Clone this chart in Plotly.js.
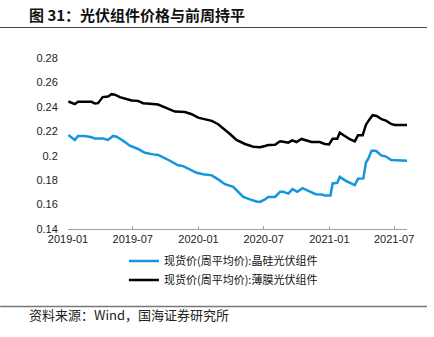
<!DOCTYPE html>
<html>
<head>
<meta charset="utf-8">
<script src="https://cdn.plot.ly/plotly-3.0.1.min.js"></script>
<style>
html,body{margin:0;padding:0;background:#fff;}
#wrap{position:relative;width:434px;height:337px;}
#chart{width:434px;height:337px;}
#rule{position:absolute;left:0;top:27px;width:427px;height:0;border-top:1.5px solid #444;pointer-events:none;}
</style>
</head>
<body>
<div id="wrap"><div id="chart"></div><div id="rule"></div></div>
<script>
// 现货价(周平均价):晶硅光伏组件
const siDates = ['2019-01-02','2019-01-20','2019-01-29','2019-02-17','2019-03-08','2019-03-17','2019-04-09','2019-04-23','2019-05-07','2019-05-17','2019-06-04','2019-06-23','2019-07-16','2019-08-04','2019-08-27','2019-09-10','2019-10-04','2019-11-05','2019-11-19','2019-12-08','2019-12-27','2020-01-14','2020-02-07','2020-02-25','2020-03-15','2020-04-07','2020-04-21','2020-05-05','2020-05-24','2020-06-11','2020-06-21','2020-07-05','2020-07-14','2020-08-02','2020-08-16','2020-08-25','2020-09-08','2020-09-20','2020-10-03','2020-10-18','2020-11-03','2020-11-24','2020-12-10','2020-12-19','2021-01-04','2021-01-10','2021-01-23','2021-01-30','2021-02-16','2021-03-13','2021-03-22','2021-04-06','2021-04-13','2021-04-20','2021-04-29','2021-05-11','2021-05-26','2021-06-07','2021-06-23','2021-08-06'];
const siValues = [0.217,0.2129,0.2162,0.2162,0.2151,0.214,0.214,0.2129,0.2162,0.2156,0.2123,0.2082,0.2055,0.2024,0.2011,0.2006,0.1973,0.1921,0.1915,0.1888,0.186,0.1849,0.1839,0.1806,0.1767,0.1745,0.1704,0.1663,0.1642,0.1625,0.1622,0.1642,0.1663,0.1663,0.1704,0.1704,0.169,0.1726,0.1704,0.1734,0.1712,0.1685,0.1683,0.1674,0.1674,0.1773,0.1778,0.1827,0.1794,0.1759,0.1811,0.1814,0.1942,0.1978,0.2041,0.2041,0.2003,0.1995,0.1964,0.1959];

// 现货价(周平均价):薄膜光伏组件
const tfDates = ['2019-01-02','2019-01-20','2019-01-29','2019-03-08','2019-03-17','2019-03-26','2019-04-08','2019-04-23','2019-05-03','2019-05-12','2019-05-26','2019-06-14','2019-06-28','2019-07-16','2019-07-30','2019-08-18','2019-09-10','2019-10-04','2019-10-27','2019-11-24','2019-12-13','2019-12-31','2020-01-19','2020-02-07','2020-02-25','2020-03-10','2020-03-29','2020-04-16','2020-05-10','2020-06-02','2020-06-21','2020-07-05','2020-07-14','2020-08-02','2020-08-16','2020-08-25','2020-09-08','2020-09-19','2020-10-01','2020-10-15','2020-10-29','2020-11-12','2020-12-05','2020-12-19','2020-12-31','2021-01-10','2021-01-23','2021-01-30','2021-02-13','2021-02-27','2021-03-13','2021-03-22','2021-04-04','2021-04-13','2021-04-22','2021-05-02','2021-05-13','2021-05-27','2021-06-08','2021-06-24','2021-07-03','2021-08-06'];
const tfValues = [0.2444,0.2422,0.2441,0.2441,0.2427,0.243,0.248,0.2485,0.2504,0.25,0.248,0.2463,0.2452,0.2449,0.243,0.2425,0.2419,0.239,0.2361,0.2357,0.234,0.2312,0.2301,0.2285,0.2258,0.2225,0.2178,0.2129,0.2096,0.2074,0.2069,0.208,0.2088,0.209,0.2118,0.2115,0.2107,0.2126,0.2112,0.2137,0.2123,0.2112,0.2112,0.2096,0.2093,0.2139,0.2139,0.2189,0.2162,0.2135,0.2118,0.2167,0.2167,0.2252,0.2293,0.2332,0.2326,0.2299,0.2287,0.2258,0.2252,0.2252];

const seriesNames = ['现货价(周平均价):晶硅光伏组件','现货价(周平均价):薄膜光伏组件'];
const chartTitle = '图 31：光伏组件价格与前周持平';
const sourceText = '资料来源：Wind，国海证券研究所';

const cjk = '"Noto Sans CJK SC", "Noto Sans", sans-serif';
const latin = 'Arial, "Liberation Sans", Helvetica, sans-serif';

const traces = [
  {x: siDates, y: siValues, name: seriesNames[0], type: 'scatter', mode: 'lines',
   line: {color: '#1496de', width: 2.5}},
  {x: tfDates, y: tfValues, name: seriesNames[1], type: 'scatter', mode: 'lines',
   line: {color: '#000000', width: 2.5}}
];

const layout = {
  width: 434, height: 337,
  margin: {l: 68, r: 27, t: 58, b: 108},
  paper_bgcolor: '#fff', plot_bgcolor: '#fff',
  showlegend: true,
  legend: {x: 0.165, xanchor: 'left', y: -0.103, yanchor: 'top', orientation: 'v',
           font: {family: cjk, size: 11, color: '#111'}, bgcolor: 'rgba(0,0,0,0)', tracegroupgap: 0},
  xaxis: {
    type: 'date', range: ['2019-01-01', '2021-08-06'],
    tick0: '2019-01-01', dtick: 'M6', tickformat: '%Y-%m',
    showgrid: false, zeroline: false,
    showline: true, linecolor: '#a0a0a0', linewidth: 1,
    ticks: 'inside', ticklen: 3, tickcolor: '#a0a0a0',
    tickfont: {family: latin, size: 11, color: '#222'}
  },
  yaxis: {
    range: [0.14, 0.28], dtick: 0.02, tick0: 0.14,
    showgrid: false, zeroline: false, showline: false,
    ticks: 'outside', ticklen: 7, tickcolor: 'rgba(0,0,0,0)',
    tickfont: {family: latin, size: 11, color: '#222'}
  },
  annotations: [
    {text: '<b>' + chartTitle + '</b>', xref: 'paper', yref: 'paper', x: -0.121, y: 1.254,
     xanchor: 'left', yanchor: 'middle', showarrow: false,
     font: {family: cjk, size: 15, color: '#111'}},
    {text: sourceText, xref: 'paper', yref: 'paper', x: -0.121, y: -0.50, xanchor: 'left', yanchor: 'middle',
     showarrow: false, font: {family: cjk, size: 13, color: '#222'}}
  ],
  shapes: [
    {type: 'line', xref: 'paper', yref: 'paper', x0: -0.2, x1: 1.059, y0: -0.4537, y1: -0.4537,
     line: {color: '#777', width: 1.5}}
  ]
};

Plotly.newPlot('chart', traces, layout, {displayModeBar: false, staticPlot: true});
</script>
</body>
</html>
